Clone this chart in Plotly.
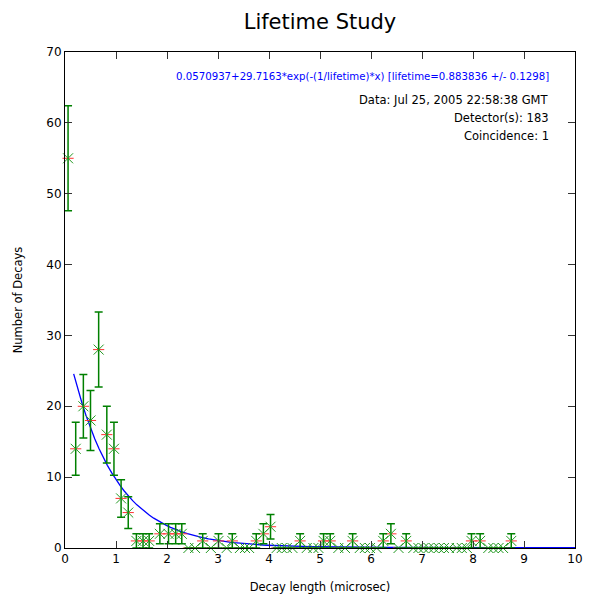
import numpy as np
import plotly.graph_objects as go

# Data
decay_x = [0.06, 0.21, 0.36, 0.50, 0.66, 0.82, 0.96, 1.10, 1.24, 1.40, 1.53, 1.65,
           1.86, 2.03, 2.17, 2.29, 2.42, 2.55, 2.70, 2.86, 3.01, 3.17, 3.28, 3.43,
           3.53, 3.61, 3.75, 3.89, 4.03, 4.15, 4.25, 4.35, 4.46, 4.61, 4.74, 4.87,
           4.97, 5.07, 5.20, 5.36, 5.49, 5.64, 5.78, 5.88, 5.98, 6.11, 6.24, 6.39,
           6.54, 6.69, 6.83, 6.93, 7.03, 7.13, 7.23, 7.33, 7.43, 7.53, 7.68, 7.78,
           7.88, 7.97, 8.14, 8.30, 8.40, 8.50, 8.59, 8.75]
decay_counts = [55, 14, 20, 18, 28, 16, 14, 7, 5, 1, 1, 1,
                2, 2, 2, 2, 0, 0, 1, 0, 1, 0, 1, 0,
                0, 0, 1, 2, 3, 0, 0, 0, 0, 1, 0, 0,
                0, 1, 1, 0, 0, 1, 0, 0, 0, 0, 1, 2,
                0, 1, 0, 0, 0, 0, 0, 0, 0, 0, 0, 0,
                0, 1, 1, 0, 0, 0, 0, 1]
decay_errors = [float(np.sqrt(c)) for c in decay_counts]

# Fit parameters (from the fit label)
fit_offset = 0.0570937
fit_amplitude = 29.7163
fit_lifetime = 0.883836
fit_x = np.linspace(0.17, 10, 120)
fit_y = fit_offset + fit_amplitude * np.exp(-fit_x / fit_lifetime)

FONT = "DejaVu Sans"
GREEN = "#008000"

fig = go.Figure()

fig.add_trace(go.Scatter(
    x=fit_x, y=fit_y, mode="lines",
    line=dict(color="#0000ff", width=1.3),
    hoverinfo="skip", showlegend=False, cliponaxis=False,
))

fig.add_trace(go.Scatter(
    x=decay_x, y=decay_counts, mode="markers",
    marker=dict(symbol="line-ew", size=8, line=dict(color="#ff3030", width=1)),
    showlegend=False, cliponaxis=False,
))

fig.add_trace(go.Scatter(
    x=decay_x, y=decay_counts, mode="markers",
    marker=dict(symbol="x-thin", size=10, line=dict(color="#229922", width=1)),
    error_y=dict(type="data", array=decay_errors, visible=True,
                 color=GREEN, thickness=1.5, width=4),
    showlegend=False, cliponaxis=False,
))

axis_common = dict(
    showgrid=False, zeroline=False,
    showline=True, linecolor="black", linewidth=1, mirror="ticks",
    ticks="inside", ticklen=7, tickcolor="#333333", tickwidth=1,
    tickfont=dict(family=FONT, size=12, color="black"),
)

fig.update_layout(
    width=600, height=600,
    paper_bgcolor="white", plot_bgcolor="white",
    margin=dict(l=57, r=33, t=44, b=60, autoexpand=False),
    title=dict(text="Lifetime Study", x=0.52, xanchor="center",
               y=0.977, yanchor="middle",
               font=dict(family=FONT, size=21, color="black")),
    xaxis=dict(range=[0, 10], dtick=1,
               title=dict(text="Decay length (microsec)", standoff=17,
                          font=dict(family=FONT, size=11.5, color="black")),
               **axis_common),
    yaxis=dict(range=[0, 70], dtick=10,
               title=dict(text="Number of Decays", standoff=21,
                          font=dict(family=FONT, size=11.5, color="black")),
               **axis_common),
    showlegend=False,
)

ann_x = 0.953
fig.add_annotation(xref="paper", yref="paper", x=ann_x, y=0.9496,
                   xanchor="right", yanchor="middle", showarrow=False,
                   text="0.0570937+29.7163*exp(-(1/lifetime)*x) [lifetime=0.883836 +/- 0.1298]",
                   font=dict(family=FONT, size=10.2, color="#0000ff"))
info_lines = ["Data: Jul 25, 2005 22:58:38 GMT", "Detector(s): 183", "Coincidence: 1"]
info_y = [0.903, 0.867, 0.831]
for t, yy in zip(info_lines, info_y):
    fig.add_annotation(xref="paper", yref="paper", x=ann_x, y=yy,
                       xanchor="right", yanchor="middle", showarrow=False,
                       text=t, font=dict(family=FONT, size=11.5, color="black"))

fig.write_html("out.html")
